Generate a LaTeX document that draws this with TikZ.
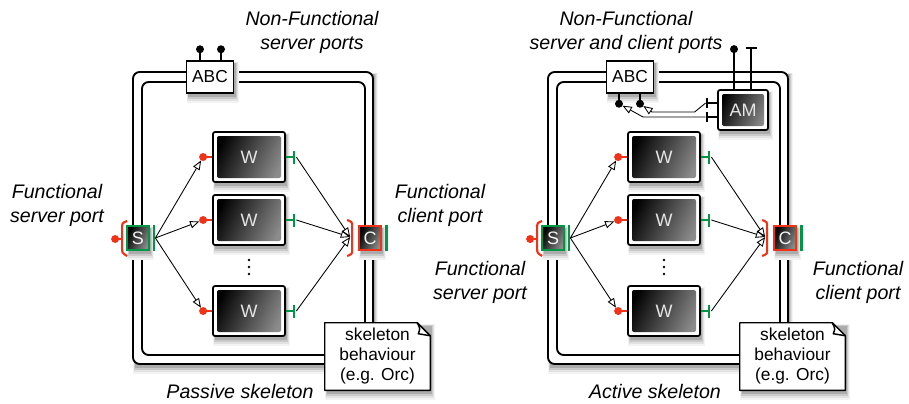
\documentclass[tikz,border=0pt]{standalone}
\usepackage{fontspec}
\setmainfont{Liberation Sans}
\usetikzlibrary{arrows.meta,calc}
\definecolor{portred}{RGB}{240,50,25}
\definecolor{portgreen}{RGB}{0,150,70}
\definecolor{shadeA}{RGB}{243,243,243}
\definecolor{shadeB}{RGB}{226,226,226}
\definecolor{shadeC}{RGB}{202,202,202}
\definecolor{shadeD}{RGB}{172,172,172}
\tikzset{
  x=0.75pt, y=-0.75pt,
  frameline/.style={draw=black, line width=1.4pt, rounded corners=5pt},
  darkshade/.style={left color=black, right color=black!45, shading angle=65},
  wbox/.style={draw=black, line width=1.3pt, fill=white, rounded corners=1.5pt,
    minimum width=54pt, minimum height=37.5pt, inner sep=0pt,
    text=black!10, font=\fontsize{13.5}{13.5}\selectfont,
    path picture={\shade[darkshade]
      ([shift={(3pt,3pt)}]path picture bounding box.south west) rectangle
      ([shift={(-3pt,-3pt)}]path picture bounding box.north east);}},
  portbox/.style={line width=1.3pt, minimum width=16.5pt, minimum height=18.5pt,
    inner sep=0pt, darkshade, text=black!5, font=\fontsize{13.5}{13.5}\selectfont},
  sbox/.style={portbox, draw=portgreen},
  cbox/.style={portbox, draw=portred},
  abcbox/.style={draw=black, line width=1.1pt, fill=white, minimum width=35.25pt,
    minimum height=24pt, inner sep=0pt, font=\fontsize{13}{13}\selectfont},
  notebox/.style={minimum width=78.75pt, minimum height=50.25pt, inner sep=0pt},
  notetext/.style={align=center, inner sep=0pt, font=\fontsize{13}{15}\selectfont},
  lbl/.style={align=center, inner sep=0pt, font=\fontsize{14.7}{18}\selectfont\itshape},
  redport/.style={draw=portred, line width=1.9pt},
  greenport/.style={draw=portgreen, line width=1.9pt},
  pin/.style={draw=black, line width=1.8pt},
  arr/.style={draw=black, line width=0.65pt,
    -{Triangle[open, length=7pt, width=5.5pt]}, shorten >=3pt},
}
% soft drop shadow under a box: centre x, centre y, half width, half height
\newcommand\dropshade[4]{%
  \fill[shadeA] (#1-#3,#2-#4+1) rectangle (#1+#3+5,#2+#4+10);
  \fill[shadeB] (#1-#3+0.5,#2-#4+1.5) rectangle (#1+#3+4,#2+#4+8);
  \fill[shadeC] (#1-#3+1,#2-#4+2) rectangle (#1+#3+3,#2+#4+6);
  \fill[shadeD] (#1-#3+1.5,#2-#4+2.5) rectangle (#1+#3+2,#2+#4+4);
}
% #1 = name prefix, #2 = horizontal offset of the skeleton
\newcommand\skelcore[2]{%
  % double frame of the skeleton
  \dropshade{253+#2}{218}{120}{146}
  \draw[frameline, fill=white] (133+#2,72) rectangle (373+#2,364);
  \draw[frameline] (142+#2,82) rectangle (365+#2,355);
  % workers with their ports
  \foreach \n/\y in {1/157,2/220,3/311}{
    \dropshade{249+#2}{\y}{36}{25}
    \node[wbox] (#1w\n) at (249+#2,\y) {W};
    \draw[redport] (#1w\n.west) -- ++(-9,0) coordinate (#1win\n);
    \fill[portred] (#1win\n) circle[radius=3pt];
    \draw[greenport] (#1w\n.east) -- ++(8,0) coordinate (#1wout\n);
    \draw[greenport] ($(#1wout\n)+(0,-6.5)$) -- ($(#1wout\n)+(0,6.5)$);
  }
  \foreach \d in {260,267,274} \fill (249+#2,\d) circle[radius=1pt];
  % functional server port S
  \dropshade{138+#2}{238}{11}{12.3}
  \node[sbox] (#1s) at (138+#2,238) {S};
  \draw[greenport] ($(#1s.north east)+(4,0)$) -- ($(#1s.south east)+(4,0)$);
  \coordinate (#1sout) at ($(#1s.east)+(5.5,0)$);
  \draw[redport, line width=1.6pt] ($(#1s.west)+(1,-17)$) .. controls ($(#1s.west)+(-4,-15)$) ..
    ($(#1s.west)+(-4,-10)$) -- ($(#1s.west)+(-4,10)$) .. controls
    ($(#1s.west)+(-4,15)$) .. ($(#1s.west)+(1,18)$);
  \draw[redport] ($(#1s.west)+(-4,1)$) -- ($(#1s.west)+(-11,1)$) coordinate (#1sin);
  \fill[portred] (#1sin) circle[radius=3pt];
  % functional client port C
  \dropshade{370+#2}{238}{11}{12.3}
  \node[cbox] (#1c) at (370+#2,238) {C};
  \draw[greenport] ($(#1c.north east)+(4.5,0)$) -- ($(#1c.south east)+(4.5,0)$);
  \draw[redport, line width=1.6pt] ($(#1c.west)+(-11,-18)$) .. controls ($(#1c.west)+(-6,-16)$) ..
    ($(#1c.west)+(-6,-11)$) -- ($(#1c.west)+(-6,11)$) .. controls
    ($(#1c.west)+(-6,16)$) .. ($(#1c.west)+(-11,18)$);
  \coordinate (#1cin) at ($(#1c.west)+(-8,-1)$);
  % data flow
  \foreach \n in {1,2,3}{
    \draw[arr] (#1sout) -- (#1win\n);
    \draw[arr, shorten >=0pt] ($(#1wout\n)+(2.5,0)$) -- (#1cin);
  }
  % behaviour note with a folded corner
  \dropshade{377.5+#2}{356.5}{52.5}{33.5}
  \path (377.5+#2,356.5) node[notebox] (#1note) {};
  \draw[line width=1.1pt, fill=white, line join=round]
    (#1note.south west) -- (#1note.north west) -- ($(#1note.north east)+(-13,0)$)
    -- ($(#1note.north east)+(0,13)$) -- (#1note.south east) -- cycle;
  \draw[line width=1.1pt, line join=round] ($(#1note.north east)+(-13,0)$)
    .. controls ($(#1note.north east)+(-10,6)$) .. ($(#1note.north east)+(-12,11)$)
    -- ($(#1note.north east)+(0,13)$);
  \node[notetext] (#1notetxt) at (#1note.center) {skeleton\\behaviour\\(e.g. Orc)};
}
\begin{document}
\begin{tikzpicture}
\useasboundingbox[fill=white] (0,0) rectangle (909,403);

% ---------------- passive skeleton ----------------
\skelcore{l}{0}
\dropshade{210}{77}{23.5}{16}
\node[abcbox] (labc) at (210,77) {ABC};
\draw[pin] ($(labc.north)+(-10,0)$) -- ++(0,-11) coordinate (labcp1);
\draw[pin] ($(labc.north)+(11,0)$) -- ++(0,-11) coordinate (labcp2);
\fill (labcp1) circle[radius=3pt];
\fill (labcp2) circle[radius=3pt];

\node[lbl] (lnf) at (312,32) {Non-Functional\\server ports};
\node[lbl] (lfs) at (57,205) {Functional\\server port};
\node[lbl] (lfc) at (440,205) {Functional\\client port};
\node[lbl] (lcap) at (240,391) {Passive skeleton};

% ---------------- active skeleton ----------------
\skelcore{r}{415}
\dropshade{630}{77}{23.5}{16}
\node[abcbox] (rabc) at (630,77) {ABC};
\draw[pin] ($(rabc.south)+(-11,0)$) -- ++(0,10) coordinate (rabcp1);
\draw[pin] ($(rabc.south)+(10,0)$) -- ++(0,10) coordinate (rabcp2);
\fill (rabcp1) circle[radius=3pt];
\fill (rabcp2) circle[radius=3pt];

\dropshade{743}{110}{25}{20}
\node[wbox, minimum width=37.5pt, minimum height=30pt] (am) at (743,110) {AM};
% client ports of the autonomic manager
\draw[pin, line width=1.5pt] ($(am.west)+(0,-7)$) -- ++(-10,0) coordinate (amp1);
\draw[pin, line width=1.5pt] ($(am.west)+(0,7)$) -- ++(-10,0) coordinate (amp2);
\draw[pin, line width=1.5pt] ($(amp1)+(0,-5)$) -- ($(amp1)+(0,5)$);
\draw[pin, line width=1.5pt] ($(amp2)+(0,-5)$) -- ($(amp2)+(0,5)$);
% non-functional ports of the manager on the outer border
\draw[pin] ($(am.north)+(-9,0)$) -- ++(0,-40) coordinate (amq1);
\fill (amq1) circle[radius=3pt];
\draw[pin] ($(am.north)+(8,0)$) -- ++(0,-41) coordinate (amq2);
\draw[pin] ($(amq2)+(-5.5,0)$) -- ($(amq2)+(5.5,0)$);
% manager bindings to ABC
\draw[arr] ($(amp1)+(-1.5,0)$) -- ++(-11,9) -- (652,112) -- (rabcp2);
\draw[arr] ($(amp2)+(-1.5,0)$) -- (643,117) -- (rabcp1);

\node[lbl] (rnf) at (626,32) {Non-Functional\\server and client ports};
\node[lbl] (rfs) at (480,282) {Functional\\server port};
\node[lbl] (rfc) at (858,282) {Functional\\client port};
\node[lbl] (rcap) at (655,391) {Active skeleton};
\end{tikzpicture}
\end{document}
